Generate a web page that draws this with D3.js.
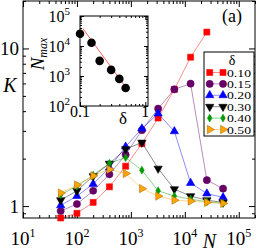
<!DOCTYPE html>
<html>
<head>
<meta charset="utf-8">
<script src="https://cdn.jsdelivr.net/npm/d3@7"></script>
<style>
body { margin: 0; background: #fff; }
svg { display: block; font-family: "Liberation Serif", "DejaVu Serif", serif; }
</style>
</head>
<body>
<svg width="258" height="251"></svg>
<script>
// system sizes N (x values)
const sizes = [50, 100, 200, 400, 800, 1600, 3200, 6400, 12800, 25600, 51200];
const deltaLabels = ["0.10", "0.15", "0.20", "0.30", "0.40", "0.50"];

// K values, one array per delta
const k010 = [0.84, 0.90, 1.055, 1.325, 1.79, 2.49, 3.62, 5.5, 8.8, 12.7];
const k015 = [0.93, 1.03, 1.25, 1.59, 2.12, 3.03, 4.15, 5.5, 5.98, 1.46, 1.29];
const k020 = [1.01, 1.157, 1.38, 1.75, 2.38, 3.1, 3.86, 2.98, 1.40, 1.20, 1.135];
const k030 = [1.09, 1.25, 1.55, 1.86, 2.3, 2.53, 1.73, 1.28, 1.157, 1.09, 1.055];
const k040 = [1.18, 1.34, 1.57, 1.87, 2.03, 1.69, 1.25, 1.157, 1.107, 1.065, 1.04];
const k050 = [1.21, 1.36, 1.555, 1.71, 1.61, 1.29, 1.157, 1.09, 1.075, 1.055, 1.04];

// inset: N_max vs delta, plus fitted line end points
const insetDelta = [0.10, 0.15, 0.20, 0.30, 0.40, 0.50];
const insetNmax = [25600, 12800, 3200, 1600, 800, 400];
const fitDelta = [0.11, 0.54];
const fitN = [39000, 340];

const xMajor = [10, 100, 1000, 10000, 100000];
const yMajor = [1, 10];
const insetYMajor = [100, 1000, 10000, 100000];
const insetXMajor = [0.1, 1];

const colors = ["#ff0000", "#660066", "#0000ff", "#000000", "#009900", "#ffa500"];
const strokes = ["#ff0000", "#660066", "#0000ff", "#000000", "#009900", "#b07010"];
const markers = ["square", "circle", "up", "down", "diamond", "right"];

const kData = [k010, k015, k020, k030, k040, k050];
const series = deltaLabels.map((label, i) => ({
  label,
  color: colors[i],
  stroke: strokes[i],
  marker: markers[i],
  points: kData[i].map((k, j) => ({ n: sizes[j], k }))
}));

const svg = d3.select("svg");

function minorTicks(lo, hi) {
  const out = [];
  for (let dec = Math.pow(10, Math.floor(Math.log10(lo))); dec <= hi; dec *= 10) {
    for (let m = 2; m <= 9; m++) {
      const v = +(dec * m).toPrecision(6);
      if (v >= lo && v <= hi) out.push(v);
    }
  }
  return out;
}

function symbolPath(type) {
  if (type === "square") return d3.symbol(d3.symbolSquare, 36)();
  if (type === "circle") return d3.symbol(d3.symbolCircle, 40)();
  if (type === "diamond") return d3.symbol(d3.symbolDiamond, 18)();
  return d3.symbol(d3.symbolTriangle, 30)();
}
function symbolRot(type) {
  if (type === "down") return 180;
  if (type === "right") return 90;
  return 0;
}

// frame axes: ticks pointing inward on all four sides
function frameAxes(g, xs, ys, w, h, major, minor, xMaj, xMin, yMaj, yMin) {
  const defs = [
    [d3.axisBottom(xs), `translate(0,${h})`, xMaj, xMin],
    [d3.axisTop(xs), `translate(0,0)`, xMaj, xMin],
    [d3.axisLeft(ys), `translate(0,0)`, yMaj, yMin],
    [d3.axisRight(ys), `translate(${w},0)`, yMaj, yMin]
  ];
  defs.forEach(([ax, tr, maj, mn]) => {
    [[maj, major], [mn, minor]].forEach(([vals, len]) => {
      const a = g.append("g")
        .attr("transform", tr)
        .call(ax.tickValues(vals).tickSize(-len).tickSizeOuter(0).tickFormat(() => ""));
      a.select(".domain").remove();
      a.selectAll(".tick line").attr("stroke", "#000");
    });
  });
  g.append("rect")
    .attr("width", w).attr("height", h)
    .attr("fill", "none").attr("stroke", "#000").attr("stroke-width", 1);
}

function powLabel(sel, x, y, exp, big, small, shift, anchor) {
  const t = sel.append("text")
    .attr("x", x).attr("y", y)
    .attr("text-anchor", anchor)
    .attr("font-size", big);
  t.append("tspan").text("10");
  t.append("tspan").attr("font-size", small).attr("dy", -shift).text(exp);
}

// ---------- main plot ----------
const mL = 23, mT = 1, W = 232, H = 217;
const x = d3.scaleLog().domain([10, 2e5]).range([0, W]);
const y = d3.scaleLog().domain([0.84, 20]).range([H, 0]);

const chart = svg.append("g").attr("transform", `translate(${mL},${mT})`);

frameAxes(chart, x, y, W, H, 6, 3,
  xMajor, minorTicks(10, 2e5), yMajor, minorTicks(0.84, 20));

xMajor.forEach(v => {
  powLabel(svg, mL + x(v), 244.5, String(Math.round(Math.log10(v))), 19, 12, 8, "middle");
});
yMajor.forEach(v => {
  svg.append("text")
    .attr("x", 19).attr("y", mT + y(v) + 7)
    .attr("text-anchor", "end").attr("font-size", 19)
    .text(String(v));
});

svg.append("text")
  .attr("x", 10).attr("y", 92)
  .attr("text-anchor", "middle")
  .attr("font-size", 20).attr("font-style", "italic")
  .text("K");
svg.append("text")
  .attr("x", 209.5).attr("y", 248)
  .attr("text-anchor", "middle")
  .attr("font-size", 20).attr("font-style", "italic")
  .text("N");
svg.append("text")
  .attr("x", 232).attr("y", 22)
  .attr("text-anchor", "middle")
  .attr("font-size", 18)
  .text("(a)");

const line = d3.line().x(d => x(d.n)).y(d => y(d.k));

series.forEach(s => {
  chart.append("path")
    .datum(s.points)
    .attr("d", line)
    .attr("fill", "none")
    .attr("stroke", s.color)
    .attr("stroke-opacity", 0.45)
    .attr("stroke-width", 1);
  chart.selectAll(null)
    .data(s.points)
    .enter()
    .append("path")
    .attr("d", symbolPath(s.marker))
    .attr("transform", d => `translate(${x(d.n)},${y(d.k)}) rotate(${symbolRot(s.marker)})`)
    .attr("fill", s.color)
    .attr("stroke", s.stroke)
    .attr("stroke-width", 0.6);
});

// ---------- inset ----------
const iL = 80, iT = 16, iW = 68, iH = 90;
const ix = d3.scaleLog().domain([0.1, 1.1]).range([0, iW]);
const iy = d3.scaleLog().domain([100, 1e5]).range([iH, 0]);

const inset = svg.append("g").attr("transform", `translate(${iL},${iT})`);
inset.append("rect").attr("width", iW).attr("height", iH).attr("fill", "#fff");

inset.append("path")
  .datum(fitDelta.map((d, i) => ({ d, n: fitN[i] })))
  .attr("d", d3.line().x(d => ix(d.d)).y(d => iy(d.n)))
  .attr("fill", "none")
  .attr("stroke", "#ff6060")
  .attr("stroke-width", 1);

inset.selectAll("circle")
  .data(insetDelta.map((d, i) => ({ d, n: insetNmax[i] })))
  .enter()
  .append("circle")
  .attr("cx", d => ix(d.d))
  .attr("cy", d => iy(d.n))
  .attr("r", 4.3)
  .attr("fill", "#000");

frameAxes(inset, ix, iy, iW, iH, 4, 2,
  insetXMajor, minorTicks(0.1, 1.1), insetYMajor, minorTicks(100, 1e5));

insetYMajor.forEach(v => {
  powLabel(svg, 70, iT + iy(v) + 6, String(Math.round(Math.log10(v))), 16, 11, 7, "end");
});
insetXMajor.forEach(v => {
  svg.append("text")
    .attr("x", iL + ix(v)).attr("y", 117)
    .attr("text-anchor", "middle").attr("font-size", 16)
    .text(String(v));
});
svg.append("text")
  .attr("x", 123).attr("y", 124)
  .attr("text-anchor", "middle").attr("font-size", 17)
  .text("δ");

const nmax = svg.append("text")
  .attr("transform", "translate(44,54) rotate(-90)")
  .attr("text-anchor", "middle")
  .attr("font-style", "italic")
  .attr("font-size", 19);
nmax.append("tspan").text("N");
nmax.append("tspan").attr("font-size", 12).attr("dy", 3).text("max");

// ---------- legend ----------
const legend = svg.append("g").attr("transform", "translate(204,52)");
legend.append("rect")
  .attr("width", 50).attr("height", 84)
  .attr("fill", "#fff").attr("stroke", "#000").attr("stroke-width", 1);
legend.append("text")
  .attr("x", 28).attr("y", 13)
  .attr("text-anchor", "middle").attr("font-size", 14)
  .text("δ");

const rows = legend.selectAll(".row")
  .data(series)
  .enter()
  .append("g")
  .attr("transform", (d, i) => `translate(0,${20.5 + i * 11.4})`);
rows.append("line")
  .attr("x1", 5.7).attr("x2", 19)
  .attr("stroke", d => d.color).attr("stroke-opacity", 0.45).attr("stroke-width", 1);
[5.7, 19].forEach(px => {
  rows.append("path")
    .attr("d", d => symbolPath(d.marker))
    .attr("transform", d => `translate(${px},0) rotate(${symbolRot(d.marker)})`)
    .attr("fill", d => d.color)
    .attr("stroke", d => d.stroke)
    .attr("stroke-width", 0.6);
});
rows.append("text")
  .attr("x", 23).attr("y", 4)
  .attr("font-size", 11)
  .attr("textLength", 24)
  .attr("lengthAdjust", "spacingAndGlyphs")
  .text(d => d.label);
</script>
</body>
</html>
